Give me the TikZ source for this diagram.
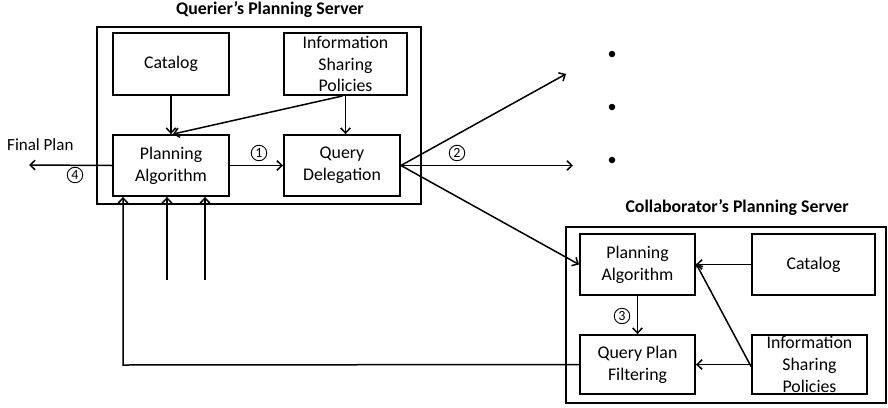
\documentclass[tikz,border=0pt]{standalone}
\usepackage{fontspec}
\setmainfont{Carlito}
\usetikzlibrary{arrows.meta}
\begin{document}
\begin{tikzpicture}[x=1pt,y=-1pt,
  box/.style={draw, line width=1.9pt, align=center, inner sep=0pt,
    font=\fontsize{17.8}{21.7}\selectfont},
  outerbox/.style={draw, line width=2pt, inner sep=0pt},
  ttl/.style={font=\fontsize{17.8}{20}\selectfont\bfseries, inner sep=0pt},
  lbl/.style={font=\fontsize{17}{20}\selectfont, inner sep=0pt},
  circ/.style={circle, draw, line width=0.9pt, minimum size=15.5pt, inner sep=0pt,
    font=\fontsize{14}{15}\selectfont},
  arr/.style={line width=1.5pt, -{Straight Barb[length=5pt,width=9.5pt,line width=1.5pt]}},
  dot/.style={circle, fill=black, inner sep=0pt, minimum size=6.5pt}
]
\useasboundingbox (0,0) rectangle (888,407);
% Querier's server
\node[outerbox, minimum width=324pt, minimum height=177pt] (qs) at (259,115.5) {};
\node[ttl] (qt) at (270,10) {Querier’s Planning Server};
\node[box, minimum width=116pt, minimum height=62pt] (qcat) at (171,64) {Catalog};
\node[box, minimum width=123pt, minimum height=62pt] (qisp) at (345.5,64) {Information\\Sharing\\Policies};
\node[box, minimum width=116pt, minimum height=61pt] (qpa) at (171,165.5) {Planning\\Algorithm};
\node[box, minimum width=116pt, minimum height=61pt] (qd) at (342,165.5) {Query\\Delegation};
% Collaborator's server
\node[outerbox, minimum width=320pt, minimum height=176pt] (cs) at (726,315) {};
\node[ttl] (ct) at (737,208) {Collaborator’s Planning Server};
\node[box, minimum width=115pt, minimum height=61pt] (cpa) at (637.5,264.5) {Planning\\Algorithm};
\node[box, minimum width=123pt, minimum height=61pt] (ccat) at (813.5,264.5) {Catalog};
\node[box, minimum width=115pt, minimum height=59pt] (cqpf) at (637.5,364.5) {Query Plan\\Filtering};
\node[box, minimum width=115pt, minimum height=59pt] (cisp) at (809.5,364.5) {Information\\Sharing\\Policies};
% free ends
\coordinate (fp) at (29,165);
\coordinate (up) at (566,74);
\coordinate (mid) at (573,165.5);
\coordinate (in1) at (167,280);
\coordinate (in2) at (205,280);
\coordinate (corner) at (123,365);
% labels
\node[lbl, anchor=west] (fpl) at (7,145) {Final Plan};
\node[circ] (c4) at (75,175) {4};
\node[circ] (c1) at (259,153) {1};
\node[circ] (c2) at (457,153) {2};
\node[circ] (c3) at (622,316) {3};
\node[dot] (d1) at (612,54) {};
\node[dot] (d2) at (612,107) {};
\node[dot] (d3) at (612,160) {};
% arrows in querier
\draw[arr] (qcat.south) -- (qpa.north);
\draw[arr] (qisp.south) -- (qisp.south |- qd.north);
\draw[arr] ([xshift=-3pt]qisp.south) -- ([xshift=2pt]qpa.north);
\draw[arr] (qpa.east) -- (qd.west);
\draw[arr] (qpa.west) -- (fp);
\draw[arr] (qd.east) -- (up);
\draw[arr] (qd.east) -- (mid);
\draw[arr] (qd.east) -- (cpa.west);
\draw[arr] (in1) -- (in1 |- qpa.south);
\draw[arr] (in2) -- (in2 |- qpa.south);
% collaborator arrows
\draw[arr] (ccat.west) -- (cpa.east);
\draw[arr] ([yshift=-2pt]cisp.west) -- ([yshift=1pt]cpa.east);
\draw[arr] (cisp.west) -- (cqpf.east);
\draw[arr] (cpa.south) -- (cqpf.north);
\draw[arr] (cqpf.west) -- (corner) -- (corner |- qpa.south);
\end{tikzpicture}
\end{document}
